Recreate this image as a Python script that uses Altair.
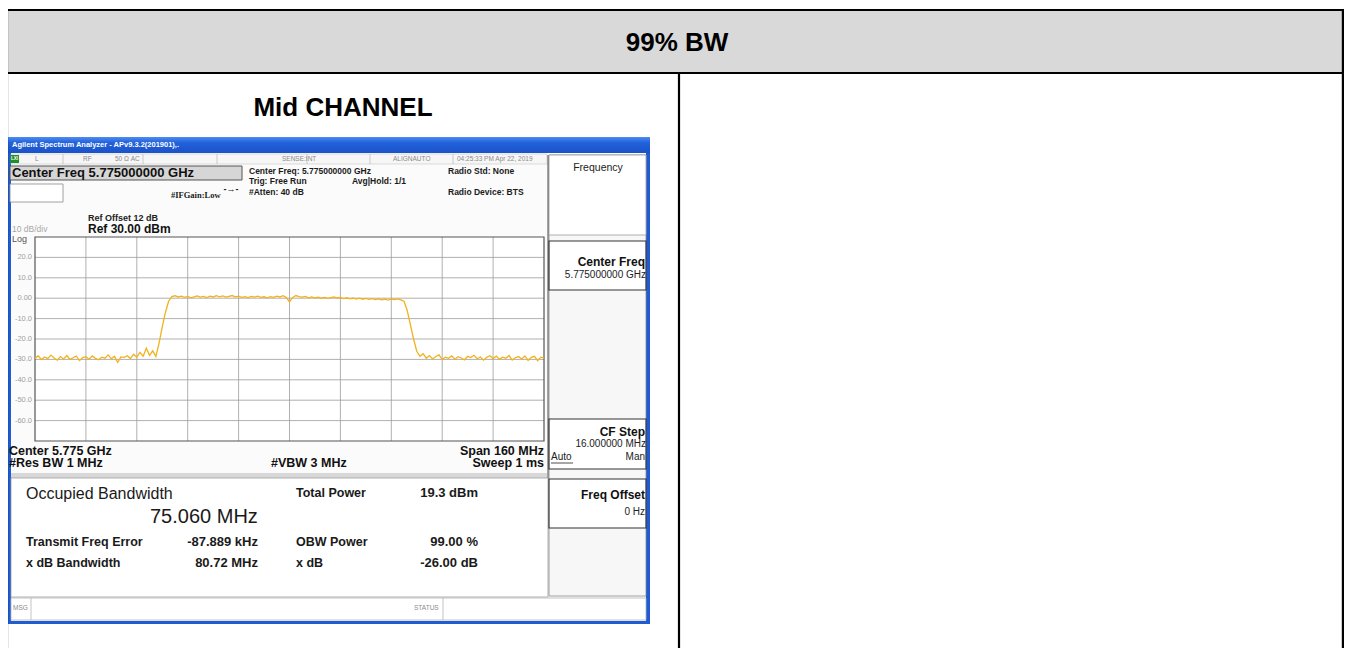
import altair as alt
import pandas as pd

W, H = 1336, 640
OFF = 8
SANS = "Liberation Sans"
SERIF = "Liberation Serif"

# ---------------- data ----------------
HEADER_TITLE = "99% BW"
PANEL_TITLE = "Mid CHANNEL"
WINDOW_TITLE = "Agilent Spectrum Analyzer - APv9.3.2(201901),."
STATUS_ROW = ["L", "RF", "50 \u03a9   AC", "SENSE:INT", "ALIGNAUTO", "04:25:33 PM Apr 22, 2019"]
SETTINGS_LEFT = ["Center Freq: 5.775000000 GHz", "Trig: Free Run", "#Atten: 40 dB"]
AVG_HOLD = "Avg|Hold: 1/1"
RADIO = ["Radio Std: None", "Radio Device: BTS"]
CENTER_BOX = "Center Freq  5.775000000 GHz"
IF_GAIN = "#IFGain:Low"
REF_LINES = ["Ref Offset 12 dB", "Ref 30.00 dBm"]
SCALE_LBL = ["10 dB/div", "Log"]
SWEEP_LEFT = ["Center 5.775 GHz", "#Res BW  1 MHz"]
VBW = "#VBW  3 MHz"
SWEEP_RIGHT = ["Span 160 MHz", "Sweep  1 ms"]
MEAS_TITLE = "Occupied Bandwidth"
MEAS_MAIN = "75.060 MHz"
MEAS_LEFT_LABELS = ["Transmit Freq Error", "x dB Bandwidth"]
MEAS_LEFT_VALUES = ["-87.889 kHz", "80.72 MHz"]
MEAS_RIGHT_LABELS = ["Total Power", "OBW Power", "x dB"]
MEAS_RIGHT_VALUES = ["19.3 dBm", "99.00 %", "-26.00 dB"]
SOFTKEY_MENU = "Frequency"
SOFTKEY_TITLES = ["Center Freq", "CF Step", "Freq Offset"]
SOFTKEY_VALUES = ["5.775000000 GHz", "16.000000 MHz", "0 Hz"]
CF_MODES = ["Auto", "Man"]
STATUS_BAR = ["MSG", "STATUS"]

FREQ_START, FREQ_STOP = 5695, 5855          # MHz
REF_TOP, REF_BOTTOM = 30, -70               # dBm
DB_TICKS = [20, 10, 0, -10, -20, -30, -40, -50, -60]
DB_LABELS = ["20.0", "10.0", "0.00", "-10.0", "-20.0", "-30.0", "-40.0", "-50.0", "-60.0"]
FREQ_GRID = [5711, 5727, 5743, 5759, 5775, 5791, 5807, 5823, 5839]

FREQ_MHZ = list(range(5695, 5856))
TRACE_DBM = [
    -29.5, -28.2, -30.1, -28.8, -29.6, -27.9, -29.3, -30.4, -28.6, -29.8,
    -28.1, -30.0, -29.2, -28.4, -30.6, -29.1, -28.7, -29.9, -28.3, -29.5,
    -30.2, -28.9, -29.4, -27.8, -29.7, -28.5, -31.5, -28.8, -29.0, -28.2,
    -29.6, -27.5, -28.9, -26.5, -28.4, -24.5, -28.0, -25.8, -28.6,
    -22.0, -14.0, -7.0, -1.5, 0.8,
    1.2, 0.6, 1.0, 0.4, 0.9, 0.2, 0.7, 1.1, 0.5, 0.9,
    0.3, 1.0, 0.6, 1.2, 0.7, 1.1, 0.5, 0.9, 1.3, 0.6,
    1.0, 0.4, 0.8, 0.3, 0.9, 0.5, 1.0, 0.4, 0.7, 0.2,
    0.8, 0.4, 1.0, 0.6, 1.2, 0.3, -1.8, 0.4, 1.3, 0.8,
    0.5, 0.9, 0.2, 0.6, 0.1, 0.5, 0.0, 0.4, -0.1, 0.3,
    0.6, 0.1, 0.4, -0.2, 0.2, -0.3, 0.1, -0.4, 0.0, -0.5,
    -0.1, -0.6, -0.2, -0.7, -0.3, -0.8, -0.4, -0.9, -0.5, -0.7,
    -0.3, -0.8,
    -1.5, -6.0, -13.0, -20.0, -26.0, -28.5,
    -27.2, -29.4, -28.1, -29.8, -28.6, -27.8, -30.1, -28.9, -29.5, -28.3,
    -29.9, -28.7, -29.3, -30.2, -28.5, -29.1, -28.0, -29.7, -28.8, -30.4,
    -29.0, -28.2, -29.6, -28.4, -30.0, -28.9, -29.4, -28.1, -30.3, -29.2,
    -28.6, -29.8, -28.3, -30.5, -29.0, -28.5, -30.6, -28.9, -29.4,
]

# ---------------- helpers ----------------
def P(v):
    return v - OFF

PXS = alt.Scale(domain=[0, W], range=[0, W], nice=False, zero=False)
PYS = alt.Scale(domain=[0, H], range=[0, H], nice=False, zero=False)


def box(x1, y1, x2, y2, fill="white", stroke=None, sw=1.0, fill_opacity=1.0):
    df = pd.DataFrame({"a": [P(x1)], "b": [P(x2)], "c": [P(y1)], "d": [P(y2)]})
    kw = dict(fill=fill, fillOpacity=fill_opacity, strokeWidth=sw)
    if stroke:
        kw["stroke"] = stroke
    return alt.Chart(df).mark_rect(**kw).encode(
        x=alt.X("a:Q", scale=PXS, axis=None), x2="b:Q",
        y=alt.Y("c:Q", scale=PYS, axis=None), y2="d:Q")


def line(x1, y1, x2, y2, color="black", sw=1.0):
    df = pd.DataFrame({"a": [P(x1)], "b": [P(x2)], "c": [P(y1)], "d": [P(y2)]})
    return alt.Chart(df).mark_rule(color=color, strokeWidth=sw).encode(
        x=alt.X("a:Q", scale=PXS, axis=None), x2="b:Q",
        y=alt.Y("c:Q", scale=PYS, axis=None), y2="d:Q")


def txt(items, size, color="#111111", weight="normal", align="left", font=SANS):
    df = pd.DataFrame({"t": [i[0] for i in items],
                       "x": [P(i[1]) for i in items],
                       "y": [P(i[2]) for i in items]})
    return alt.Chart(df).mark_text(
        align=align, baseline="middle", fontSize=size, fontWeight=weight,
        color=color, font=font).encode(
        x=alt.X("x:Q", scale=PXS, axis=None),
        y=alt.Y("y:Q", scale=PYS, axis=None),
        text="t:N")


RIGHT_EDGE = OFF + W - 1.1   # outer table border, as far right as the page allows

layers = []

# ---------------- document table ----------------
layers.append(box(7, 10, RIGHT_EDGE, 73, fill="#d9d9d9"))
layers.append(txt([(HEADER_TITLE, 677, 43)], 26, "#000000", "bold", "center"))
layers.append(txt([(PANEL_TITLE, 343, 108)], 26, "#000000", "bold", "center"))

# ---------------- analyzer screenshot ----------------
layers.append(box(8, 137, 650, 624, fill="#1f5bd3"))
layers.append(box(11, 153, 646, 621, fill="#fbfbfb"))
title_grad = alt.LinearGradient(
    gradient="linear", x1=0, y1=0, x2=0, y2=1,
    stops=[alt.GradientStop(color="#4f8cf2", offset=0),
           alt.GradientStop(color="#2262db", offset=0.35),
           alt.GradientStop(color="#1a52c8", offset=1)])
layers.append(box(8, 137, 650, 153, fill=title_grad))
layers.append(txt([(WINDOW_TITLE, 12, 145)], 7.5, "#ffffff", "bold"))

# status row
layers.append(box(11, 154, 547, 164, fill="#f6f6f6", stroke="#c8c8c8", sw=0.6))
for sx in [63, 143, 217, 307, 370, 453]:
    layers.append(line(sx, 154, sx, 164, "#c0c0c0", 0.8))
layers.append(box(10, 155, 19, 163, fill="#1f8f2a"))
layers.append(txt([("LXI", 14.5, 159)], 4.5, "#ffffff", "bold", "center"))
layers.append(txt([(STATUS_ROW[0], 35, 159), (STATUS_ROW[1], 83, 159),
                   (STATUS_ROW[2], 115, 159), (STATUS_ROW[3], 282, 159),
                   (STATUS_ROW[4], 393, 159), (STATUS_ROW[5], 457, 159)],
                  6.5, "#8a8a8a"))

# center freq entry box
layers.append(box(10, 166, 242, 180, fill="#d6d6d6", stroke="#555555", sw=1))
layers.append(txt([(CENTER_BOX, 12, 173)], 13, "#111111", "bold"))
layers.append(box(10, 184, 63, 202, fill="#ffffff", stroke="#8a8a8a", sw=0.8))
layers.append(txt([(IF_GAIN, 171, 195)], 8.5, "#222222", "bold", font=SERIF))
layers.append(txt([("-\u2192-", 231, 189)], 9, "#222222", "bold", "center"))

layers.append(txt([(SETTINGS_LEFT[0], 249, 171), (SETTINGS_LEFT[1], 249, 181),
                   (SETTINGS_LEFT[2], 249, 192), (AVG_HOLD, 352, 181),
                   (RADIO[0], 448, 171), (RADIO[1], 448, 192)],
                  8.5, "#1a1a1a", "bold"))

layers.append(txt([(REF_LINES[0], 88, 218)], 9, "#222222", "bold"))
layers.append(txt([(REF_LINES[1], 88, 229)], 12, "#111111", "bold"))
layers.append(txt([(SCALE_LBL[0], 12, 229)], 8.5, "#a8a8a8"))
layers.append(txt([(SCALE_LBL[1], 12, 239)], 9, "#555555"))

# ---------------- spectrum plot ----------------
FX = alt.Scale(domain=[FREQ_START, FREQ_STOP], range=[P(35), P(544)], nice=False, zero=False)
FY = alt.Scale(domain=[REF_BOTTOM, REF_TOP], range=[P(441), P(237)], nice=False, zero=False)

layers.append(box(35, 237, 544, 441, fill="#ffffff"))
vg = pd.DataFrame({"f": FREQ_GRID, "lo": [REF_BOTTOM] * len(FREQ_GRID), "hi": [REF_TOP] * len(FREQ_GRID)})
layers.append(alt.Chart(vg).mark_rule(color="#9c9c9c", strokeWidth=0.8).encode(
    x=alt.X("f:Q", scale=FX, axis=None),
    y=alt.Y("lo:Q", scale=FY, axis=None), y2="hi:Q"))
hg = pd.DataFrame({"p": DB_TICKS, "a": [FREQ_START] * len(DB_TICKS), "b": [FREQ_STOP] * len(DB_TICKS)})
layers.append(alt.Chart(hg).mark_rule(color="#9c9c9c", strokeWidth=0.8).encode(
    y=alt.Y("p:Q", scale=FY, axis=None),
    x=alt.X("a:Q", scale=FX, axis=None), x2="b:Q"))
layers.append(box(35, 237, 544, 441, fill="#ffffff", fill_opacity=0, stroke="#555555", sw=1.2))
yl = pd.DataFrame({"p": DB_TICKS, "t": DB_LABELS})
layers.append(alt.Chart(yl).mark_text(align="right", baseline="middle", fontSize=7.5,
                                      color="#a0a0a0", font=SANS).encode(
    y=alt.Y("p:Q", scale=FY, axis=None), x=alt.value(P(32)), text="t:N"))
tr = pd.DataFrame({"f": FREQ_MHZ, "p": TRACE_DBM})
layers.append(alt.Chart(tr).mark_line(color="#f2b21c", strokeWidth=1.3).encode(
    x=alt.X("f:Q", scale=FX, axis=None), y=alt.Y("p:Q", scale=FY, axis=None)))

layers.append(txt([(SWEEP_LEFT[0], 9, 451), (SWEEP_LEFT[1], 9, 463), (VBW, 271, 463)],
                  12.5, "#111111", "bold"))
layers.append(txt([(SWEEP_RIGHT[0], 544, 451), (SWEEP_RIGHT[1], 544, 463)],
                  12.5, "#111111", "bold", "right"))

# ---------------- measurement panel ----------------
layers.append(box(11, 473, 547, 478, fill="#d8d8d8"))
layers.append(box(11, 478, 548, 597, fill="#ffffff", stroke="#a0a0a0", sw=0.8))
layers.append(txt([(MEAS_TITLE, 26, 494)], 16, "#1a1a1a"))
layers.append(txt([(MEAS_MAIN, 150, 517)], 20, "#1a1a1a"))
layers.append(txt([(MEAS_LEFT_LABELS[0], 26, 542), (MEAS_LEFT_LABELS[1], 26, 563),
                   (MEAS_RIGHT_LABELS[0], 296, 493), (MEAS_RIGHT_LABELS[1], 296, 542),
                   (MEAS_RIGHT_LABELS[2], 296, 563)],
                  12.5, "#1a1a1a", "bold"))
layers.append(txt([(MEAS_LEFT_VALUES[0], 258, 542), (MEAS_LEFT_VALUES[1], 258, 563),
                   (MEAS_RIGHT_VALUES[0], 478, 493), (MEAS_RIGHT_VALUES[1], 478, 542),
                   (MEAS_RIGHT_VALUES[2], 478, 563)],
                  13, "#1a1a1a", "bold", "right"))

# status bar
layers.append(box(11, 598, 646, 620, fill="#ffffff", stroke="#b5b5b5", sw=0.8))
layers.append(line(31, 598, 31, 620, "#b5b5b5", 0.8))
layers.append(line(443, 598, 443, 620, "#b5b5b5", 0.8))
layers.append(txt([(STATUS_BAR[0], 13, 608), (STATUS_BAR[1], 414, 608)], 6.5, "#8a8a8a"))

# ---------------- softkeys ----------------
layers.append(box(549, 155, 646, 596, fill="#f7f7f7", stroke="#8a8a8a", sw=0.8))
layers.append(box(549, 155, 646, 235, fill="#ffffff", stroke="#9a9a9a", sw=0.8))
layers.append(line(548, 155, 548, 478, "#6a6a6a", 1.2))
layers.append(txt([(SOFTKEY_MENU, 598, 168)], 10.5, "#222222", "normal", "center"))
for (y1, y2) in [(241, 290), (419, 469), (479, 528)]:
    layers.append(box(549, y1, 646, y2, fill="#ffffff", stroke="#333333", sw=1.2))
layers.append(txt([(SOFTKEY_TITLES[0], 645, 262), (SOFTKEY_TITLES[1], 645, 432),
                   (SOFTKEY_TITLES[2], 645, 495)], 12, "#111111", "bold", "right"))
layers.append(txt([(SOFTKEY_VALUES[0], 646, 275), (SOFTKEY_VALUES[1], 646, 444),
                   (SOFTKEY_VALUES[2], 645, 512)], 10, "#222222", "normal", "right"))
layers.append(txt([(CF_MODES[0], 551, 457)], 10, "#222222"))
layers.append(txt([(CF_MODES[1], 645, 457)], 10, "#222222", "normal", "right"))
layers.append(line(551, 463, 573, 463, "#222222", 0.8))

# ---------------- table borders on top ----------------
layers.append(line(6, 10, RIGHT_EDGE + 1, 10, "#000000", 2.2))
layers.append(line(6, 73, RIGHT_EDGE + 1, 73, "#000000", 2.2))
layers.append(line(7, 9, 7, 700, "#000000", 2.2))
layers.append(line(RIGHT_EDGE, 9, RIGHT_EDGE, 700, "#000000", 2.2))
layers.append(line(679, 73, 679, 700, "#000000", 2.2))

chart = alt.layer(*layers).resolve_scale(
    x="independent", y="independent"
).properties(
    width=W, height=H, padding=0,
    autosize=alt.AutoSizeParams(type="none"),
    background="#ffffff",
).configure_view(stroke=None)

chart.save("out.html", embed_options={"renderer": "svg", "actions": False})
